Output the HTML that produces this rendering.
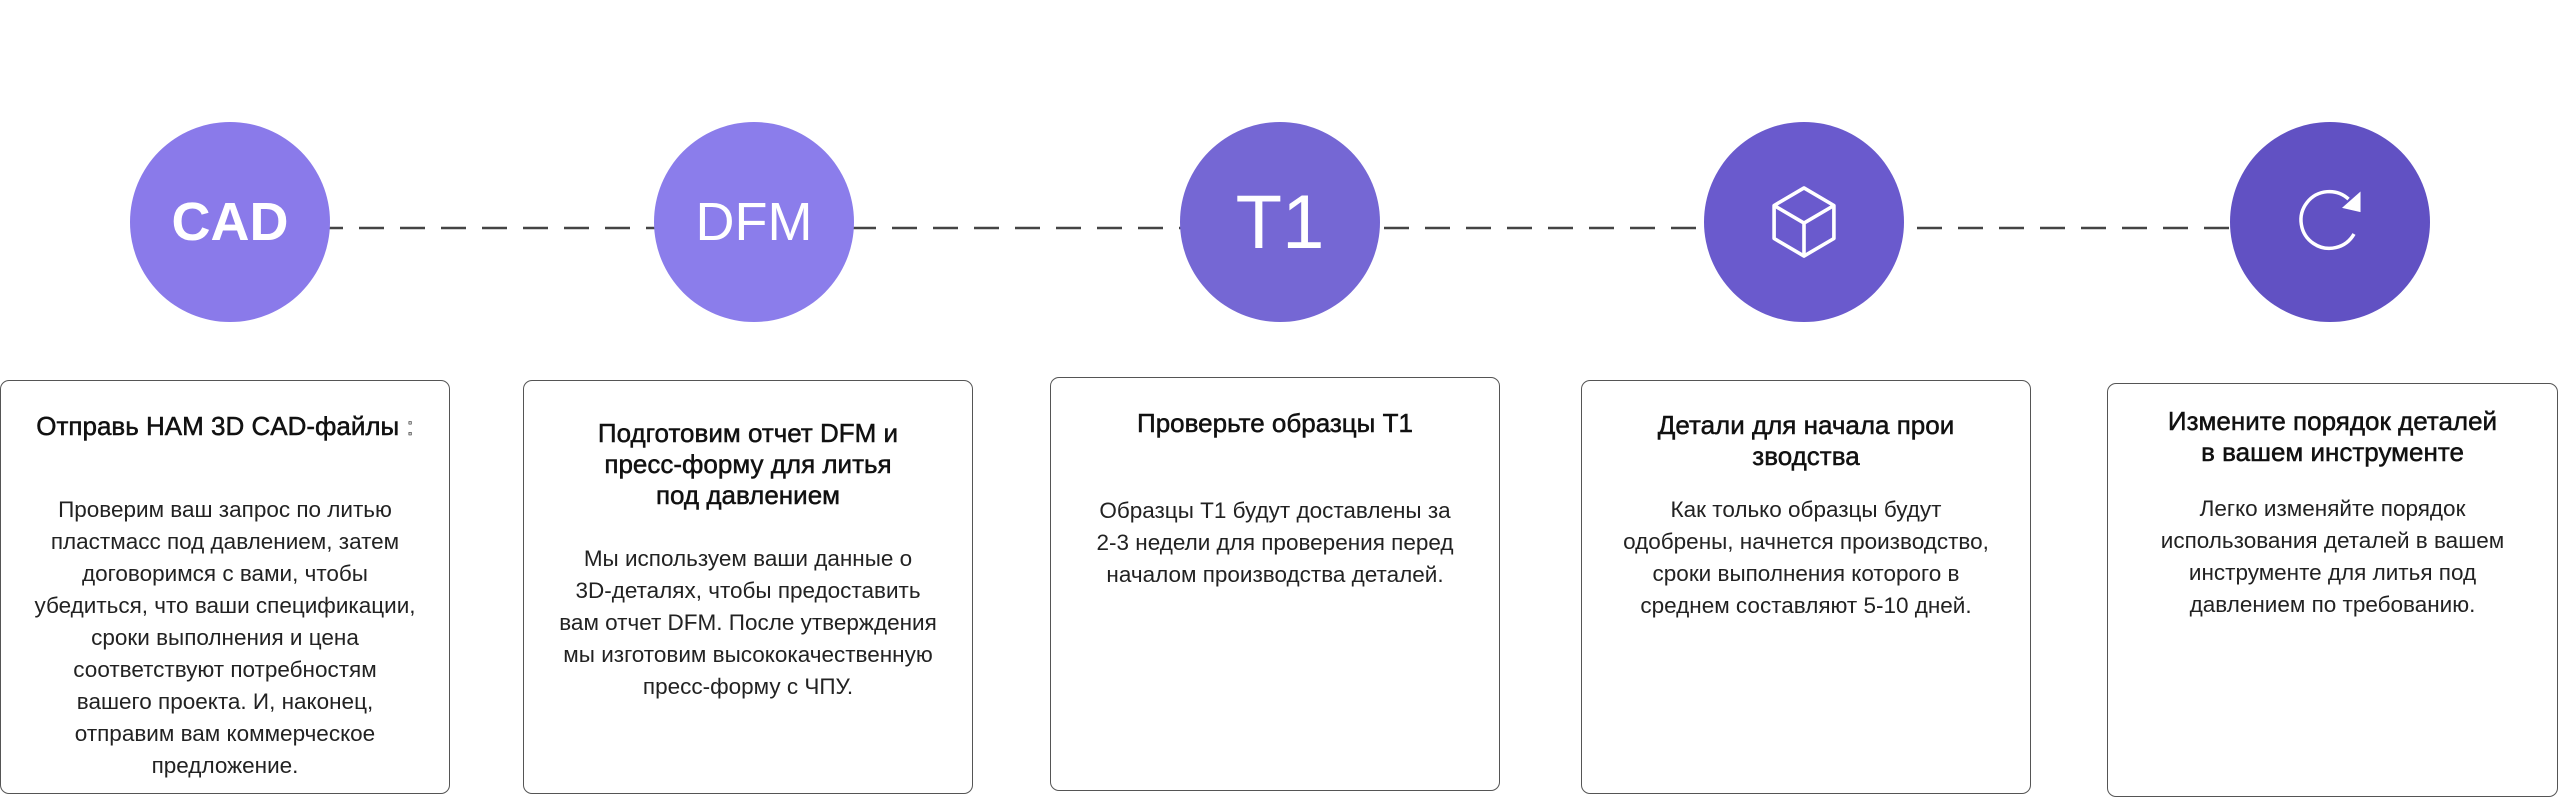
<!DOCTYPE html>
<html><head><meta charset="utf-8"><style>
html,body{margin:0;padding:0;background:#fff;}
body{width:2560px;height:799px;position:relative;overflow:hidden;font-family:"Liberation Sans","Noto Sans CJK SC",sans-serif;}
.c{position:absolute;width:200px;height:200px;border-radius:50%;top:122px;color:#fff;display:flex;align-items:center;justify-content:center;}
.box{position:absolute;top:380px;height:414px;width:450px;border:1.5px solid #555;border-radius:9px;box-sizing:border-box;background:#fff;}
.t{position:absolute;left:0;right:0;text-align:center;font-size:26px;line-height:31px;color:#111;-webkit-text-stroke:0.5px #111;white-space:nowrap;}
.b{position:absolute;left:0;right:0;text-align:center;font-size:22.5px;line-height:32px;color:#222;white-space:nowrap;}
</style></head><body>
<svg width="2560" height="799" style="position:absolute;left:0;top:0">
<line x1="318" y1="228" x2="2232" y2="228" stroke="#444" stroke-width="2.5" stroke-dasharray="25,16"/>
</svg>
<div class="c" style="left:130px;background:#8a7aea;font-size:54px;font-weight:bold;">CAD</div>
<div class="c" style="left:654px;background:#8b7deb;font-size:54px;">DFM</div>
<div class="c" style="left:1180px;background:#7567d4;font-size:76px;">T1</div>
<div class="c" style="left:1704px;background:#6a5acd;">
<svg width="66" height="76" viewBox="0 0 64 72"><g fill="none" stroke="#fff" stroke-width="3.5" stroke-linejoin="round"><path d="M32 3 L61 20 L61 52 L32 69 L3 52 L3 20 Z"/><path d="M3 20 L32 37 L61 20 M32 37 L32 69"/></g></svg></div>
<div class="c" style="left:2230px;background:#6151c3;">
<svg width="72" height="72" viewBox="0 0 66 66"><path d="M55 44 A26 26 0 1 1 50 12" fill="none" stroke="#fff" stroke-width="3.2"/><path d="M61 5 L61 24 L44 20 Z" fill="#fff"/></svg></div>

<div class="box" style="left:0px;">
<div class="t" style="top:30px;">Отправь НАМ 3D CAD-файлы <span style="color:#ccc">:</span></div>
<div class="b" style="top:113px;">Проверим ваш запрос по литью<br>пластмасс под давлением, затем<br>договоримся с вами, чтобы<br>убедиться, что ваши спецификации,<br>сроки выполнения и цена<br>соответствуют потребностям<br>вашего проекта. И, наконец,<br>отправим вам коммерческое<br>предложение.</div>
</div>
<div class="box" style="left:523px;">
<div class="t" style="top:37px;">Подготовим отчет DFM и<br>пресс-форму для литья<br>под давлением</div>
<div class="b" style="top:162px;">Мы используем ваши данные о<br>3D-деталях, чтобы предоставить<br>вам отчет DFM. После утверждения<br>мы изготовим высококачественную<br>пресс-форму с ЧПУ.</div>
</div>
<div class="box" style="left:1050px;top:377px;">
<div class="t" style="top:30px;">Проверьте образцы T1</div>
<div class="b" style="top:117px;">Образцы T1 будут доставлены за<br>2-3 недели для проверения перед<br>началом производства деталей.</div>
</div>
<div class="box" style="left:1581px;">
<div class="t" style="top:29px;">Детали для начала прои<br>зводства</div>
<div class="b" style="top:113px;">Как только образцы будут<br>одобрены, начнется производство,<br>сроки выполнения которого в<br>среднем составляют 5-10 дней.</div>
</div>
<div class="box" style="left:2107px;top:383px;width:451px;">
<div class="t" style="top:22px;">Измените порядок деталей<br>в вашем инструменте</div>
<div class="b" style="top:109px;">Легко изменяйте порядок<br>использования деталей в вашем<br>инструменте для литья под<br>давлением по требованию.</div>
</div>
</body></html>
